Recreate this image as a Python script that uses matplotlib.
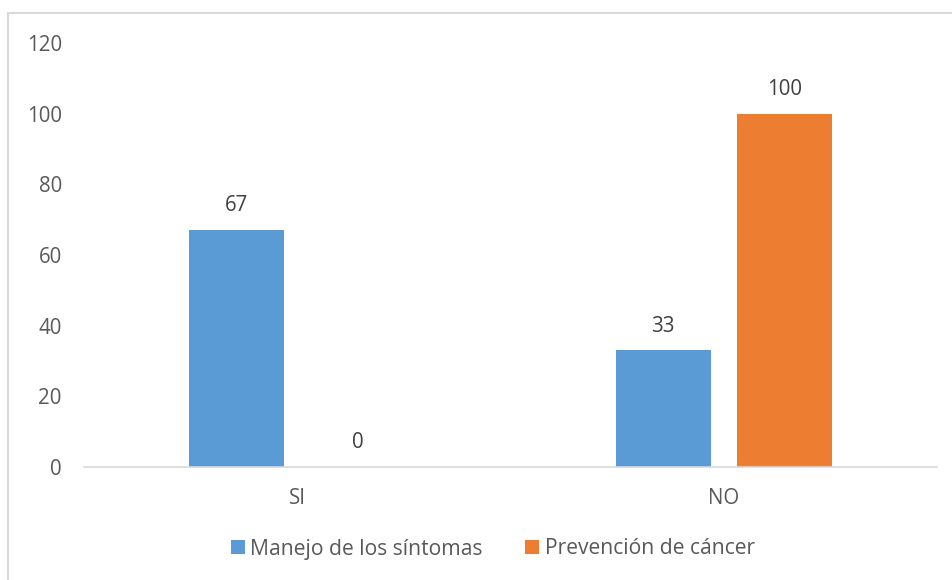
import matplotlib
matplotlib.use("Agg")
import matplotlib.pyplot as plt
from matplotlib.patches import Rectangle
import numpy as np

# data
categories = ["SI", "NO"]
series_names = ["Manejo de los síntomas", "Prevención de cáncer"]
manejo = [67, 33]
prevencion = [0, 100]
yticks = [0, 20, 40, 60, 80, 100, 120]

blue = "#5B9BD5"
orange = "#ED7D31"
txt = "#595959"

plt.rcParams['font.family'] = ['Open Sans', 'DejaVu Sans']

fig = plt.figure(figsize=(9.53, 5.8), dpi=100)
ax = fig.add_axes([84 / 953, 1 - 467 / 580, (937 - 84) / 953, (467 - 43) / 580])

# chart border like the Excel frame
fig.patches.append(Rectangle((8 / 953, -0.05), 1.2, 1 - 13 / 580 + 0.05,
                             transform=fig.transFigure, fill=False,
                             edgecolor="#D9D9D9", linewidth=1.5))

x = np.arange(len(categories))
w = 0.223
off = 0.1418
b1 = ax.bar(x - off, manejo, w, color=blue, label=series_names[0])
b2 = ax.bar(x + off, prevencion, w, color=orange, label=series_names[1])

for bars in (b1, b2):
    for r in bars:
        ax.annotate(f"{r.get_height():g}", (r.get_x() + r.get_width() / 2, r.get_height()),
                    xytext=(0, 10), textcoords="offset points", ha="center", va="bottom",
                    fontsize=14.8, color="#404040")

ax.set_xlim(-0.5, 1.5)
ax.set_ylim(0, 120)
ax.set_yticks(yticks)
ax.set_xticks(x)
ax.set_xticklabels(categories)
ax.tick_params(axis="both", length=0, labelsize=14.8, colors=txt)
ax.tick_params(axis="y", pad=16)
ax.tick_params(axis="x", pad=15)
for s in ["top", "right", "left"]:
    ax.spines[s].set_visible(False)
ax.spines["bottom"].set_color("#D9D9D9")
ax.spines["bottom"].set_linewidth(1.2)

leg = fig.legend(loc="center", bbox_to_anchor=(0.517, 1 - 549 / 580), ncol=2, frameon=False,
                 fontsize=15.2, handlelength=0.68, handleheight=0.68, handletextpad=0.25,
                 columnspacing=2.0)
for t in leg.get_texts():
    t.set_color(txt)

fig.savefig("out.png", dpi=100)
